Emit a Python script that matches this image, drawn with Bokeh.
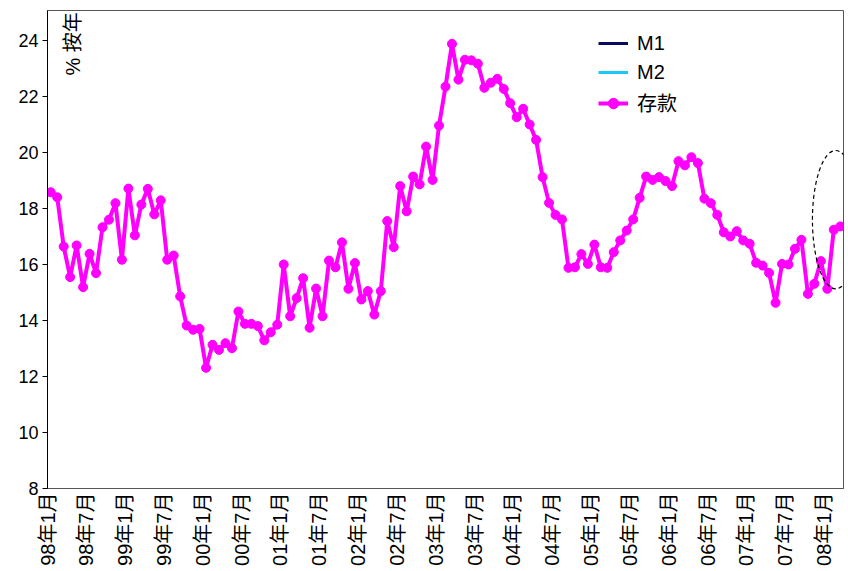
import math
from bokeh.plotting import figure
from bokeh.models import Range1d, FixedTicker, Label, ColumnDataSource
from bokeh.embed import file_html
from bokeh.resources import INLINE

# ---- data ----
tick_labels = ["98年1月", "98年7月", "99年1月", "99年7月", "00年1月", "00年7月",
               "01年1月", "01年7月", "02年1月", "02年7月", "03年1月", "03年7月",
               "04年1月", "04年7月", "05年1月", "05年7月", "06年1月", "06年7月",
               "07年1月", "07年7月", "08年1月"]

# 存款 yoy growth, monthly 1998-01 .. 2008-03
deposits = [18.58, 18.40, 16.64, 15.55, 16.68, 15.19, 16.38, 15.69, 17.33, 17.60,
            18.19, 16.17, 18.71, 17.04, 18.14, 18.70, 17.79, 18.29, 16.17, 16.32,
            14.86, 13.82, 13.67, 13.70, 12.31, 13.13, 12.95, 13.19, 13.01, 14.32,
            13.88, 13.88, 13.80, 13.29, 13.58, 13.85, 16.00, 14.15, 14.80, 15.51,
            13.74, 15.14, 14.15, 16.14, 15.90, 16.79, 15.13, 16.05, 14.75, 15.05,
            14.21, 15.05, 17.55, 16.62, 18.80, 17.90, 19.14, 18.86, 20.21, 19.02,
            20.96, 22.35, 23.88, 22.60, 23.31, 23.29, 23.17, 22.31, 22.49, 22.63,
            22.27, 21.76, 21.26, 21.56, 21.00, 20.45, 19.12, 18.20, 17.77, 17.61,
            15.88, 15.90, 16.37, 16.02, 16.71, 15.90, 15.88, 16.44, 16.86, 17.21,
            17.61, 18.38, 19.14, 19.02, 19.12, 18.98, 18.80, 19.69, 19.54, 19.83,
            19.62, 18.35, 18.19, 17.77, 17.15, 17.00, 17.19, 16.86, 16.74, 16.06,
            15.96, 15.70, 14.63, 16.02, 16.00, 16.56, 16.88, 14.95, 15.31, 16.12,
            15.13, 17.24, 17.36]
# M1 / M2 series lie outside the visible window (only their legend entries show)
m1_x = [-3.0, -1.0]
m1 = [16.4, 16.4]
m2_x = [-3.0, -1.0]
m2 = [17.2, 17.2]

n = len(deposits)
xs = [i + 0.5 for i in range(n)]

FONT = "Liberation Sans, Noto Sans CJK SC"

p = figure(width=848, height=600, output_backend="svg", toolbar_location=None,
           x_range=Range1d(0, n), y_range=Range1d(8, 25.07),
           min_border_left=47, min_border_right=5, min_border_top=10,
           min_border_bottom=112)
p.background_fill_color = "white"
p.border_fill_color = "white"
p.outline_line_color = "#555555"
p.outline_line_width = 1
p.xgrid.visible = False
p.ygrid.visible = False

# axes
p.yaxis.ticker = FixedTicker(ticks=list(range(8, 25, 2)))
p.yaxis.major_label_text_font = FONT
p.yaxis.major_label_text_font_size = "18px"
p.yaxis.major_label_text_color = "black"
p.yaxis.major_tick_out = 5
p.yaxis.major_tick_in = 0
p.yaxis.minor_tick_line_color = None
p.yaxis.axis_line_color = "black"
p.yaxis.major_tick_line_color = "black"
p.yaxis.major_label_standoff = 4

tick_pos = [6 * k for k in range(len(tick_labels))]
p.xaxis.ticker = FixedTicker(ticks=tick_pos)
p.xaxis.major_label_overrides = {t: lab for t, lab in zip(tick_pos, tick_labels)}
p.xaxis.major_label_orientation = math.pi / 2
p.xaxis.major_label_text_font = FONT
p.xaxis.major_label_text_font_size = "20px"
p.xaxis.major_label_text_color = "black"
p.xaxis.major_tick_out = 0
p.xaxis.major_tick_in = 0
p.xaxis.minor_tick_line_color = None
p.xaxis.axis_line_color = "#555555"
p.xaxis.major_label_standoff = 4

src = ColumnDataSource(dict(x=xs, y=deposits))
p.line(x=m1_x, y=m1, line_color="#0b0b5e", line_width=3, legend_label="M1")
p.line(x=m2_x, y=m2, line_color="#19c8f5", line_width=3, legend_label="M2")
p.line("x", "y", source=src, line_color="#ff00ff", line_width=4, legend_label="存款")
p.scatter("x", "y", source=src, size=9, marker="circle", fill_color="#ff00ff",
          line_color="#ff00ff", legend_label="存款")

# dashed ellipse highlighting the latest months
p.ellipse(x=121.8, y=17.6, width=7.2, height=4.94, fill_color=None,
          line_color="black", line_dash="4 3", line_width=1.2)

# unit label
p.add_layout(Label(x=4.0, y=22.75, text="% 按年", angle=math.pi / 2,
                   text_align="left", text_baseline="middle",
                   text_font=FONT, text_font_size="20px", text_color="black"))

leg = p.legend[0]
leg.location = (551, 371)
leg.border_line_color = None
leg.background_fill_alpha = 0
leg.padding = 0
leg.margin = 0
leg.spacing = 3
leg.glyph_width = 30
leg.glyph_height = 26
leg.label_height = 26
leg.label_standoff = 9
leg.label_text_font = FONT
leg.label_text_font_size = "20px"
leg.label_text_color = "black"

open("out.html", "w").write(file_html(p, INLINE))
